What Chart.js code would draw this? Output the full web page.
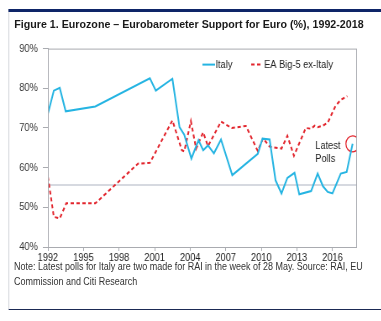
<!DOCTYPE html>
<html>
<head>
<meta charset="utf-8">
<script src="https://cdn.jsdelivr.net/npm/chart.js@4"></script>
<style>
	body { margin: 0; background: #fff; }
	#page {
		position: absolute; left: 0; top: 0;
		width: 454px; height: 321px;
		transform: scaleX(0.84); transform-origin: 0 0;
		font-family: "Liberation Sans", Arial, sans-serif;
	}
	#topbar { position: absolute; left: 9.5px; top: 9px; right: 0; height: 3px; background: #0e2568; }
	#leftline { position: absolute; left: 9.5px; top: 12px; width: 1px; height: 297px; background: #cfd2d8; }
	#bottomline { position: absolute; left: 9.5px; top: 309px; right: 0; height: 1px; background: #1b2a55; }
	#title {
		position: absolute; left: 16.7px; top: 17px;
		font-weight: bold; font-size: 11px; line-height: 14px; color: #1a1a1a; white-space: nowrap;
		transform: scaleX(1.155); transform-origin: 0 0;
	}
	#wrap { position: absolute; left: 0; top: 36px; width: 454px; height: 228px; }
	#note { position: absolute; left: 16.7px; top: 259px; font-size: 10.7px; line-height: 15px; color: #333; white-space: nowrap; }
</style>
</head>
<body>
<div id="page">
	<div id="topbar"></div>
	<div id="leftline"></div>
	<div id="title">Figure 1. Eurozone – Eurobarometer Support for Euro (%), 1992-2018</div>
	<div id="wrap"><canvas id="canvas" width="454" height="228"></canvas></div>
	<div id="note">Note: Latest polls for Italy are two made for RAI in the week of 28 May. Source: RAI, EU<br>Commission and Citi Research</div>
	<div id="bottomline"></div>
</div>
<script>
const italyYears = [1992.0, 1992.5, 1993.0, 1993.5, 1996.0, 2000.6, 2001.1, 2002.5, 2003.1, 2003.5,
	2004.1, 2004.7, 2005.1, 2005.5, 2006.0, 2006.6, 2007.55, 2009.7, 2010.1, 2010.7,
	2011.2, 2011.7, 2012.2, 2012.8, 2013.2, 2014.2, 2014.75, 2015.2, 2015.6, 2016.0,
	2016.7, 2017.2, 2017.7];
const italyValues = [73.6, 79.4, 80.1, 74.2, 75.4, 82.5, 79.4, 82.4, 70.2, 68.3,
	62.3, 66.9, 64.4, 65.6, 63.6, 67.1, 58.1, 63.5, 67.3, 67.1,
	56.8, 53.5, 57.4, 58.7, 53.3, 54.1, 58.5, 55.3, 53.9, 53.5,
	58.5, 58.9, 66.0];

const eaYears = [1992.0, 1992.5, 1993.0, 1993.55, 1996.0, 1999.6, 2000.6, 2002.5, 2003.3, 2003.5,
	2004.06, 2004.5, 2005.1, 2005.5, 2006.6, 2007.5, 2008.7, 2009.7, 2010.15, 2010.7,
	2011.7, 2012.2, 2012.75, 2013.75, 2014.2, 2014.5, 2014.75, 2015.2, 2015.6, 2016.25,
	2016.7, 2017.25];
const eaValues = [57.7, 47.6, 47.2, 51.0, 51.0, 61.0, 61.2, 71.9, 64.4, 64.1,
	71.7, 64.8, 68.9, 65.4, 71.6, 70.0, 70.5, 64.2, 67.4, 65.3,
	64.8, 68.0, 63.0, 70.0, 69.8, 70.6, 70.2, 70.6, 71.3, 75.5,
	77.1, 78.0];

const referenceLevel = 55.6;
const yTicks = [40, 50, 60, 70, 80, 90];
const xTicks = [1992, 1995, 1998, 2001, 2004, 2007, 2010, 2013, 2016];

const cyan = "#25b4e2";
const red = "#e2252d";

const toPoints = (xs, ys) => xs.map((x, i) => ({ x: x, y: ys[i] }));

// frame around the plot, legend and the "Latest Polls" note
const decor = {
	id: "decor",
	afterDraw(chart) {
		const { ctx, chartArea: a, scales } = chart;
		ctx.save();
		ctx.strokeStyle = "#a9abb0";
		ctx.lineWidth = 1;
		ctx.strokeRect(a.left + 0.5, a.top + 0.5, a.right - a.left, a.bottom - a.top);

		ctx.font = "11px 'Liberation Sans', Arial, sans-serif";
		ctx.textBaseline = "middle";
		ctx.fillStyle = "#222";
		const ly = a.top + 16;
		ctx.lineWidth = 2;
		ctx.strokeStyle = cyan;
		ctx.beginPath();
		ctx.moveTo(241, ly);
		ctx.lineTo(256, ly);
		ctx.stroke();
		ctx.fillText("Italy", 256.5, ly);
		ctx.strokeStyle = red;
		ctx.setLineDash([4, 3]);
		ctx.beginPath();
		ctx.moveTo(299, ly);
		ctx.lineTo(313, ly);
		ctx.stroke();
		ctx.setLineDash([]);
		ctx.fillText("EA Big-5 ex-Italy", 314.5, ly);

		const tx = scales.x.getPixelForValue(2014.55);
		ctx.fillText("Latest", tx, scales.y.getPixelForValue(65.4));
		ctx.fillText("Polls", tx, scales.y.getPixelForValue(62.3));
		ctx.restore();
	},
};

new Chart(document.getElementById("canvas"), {
	type: "line",
	data: {
		datasets: [
			{
				label: "Italy",
				data: toPoints(italyYears, italyValues),
				borderColor: cyan,
				borderWidth: 2,
				pointRadius: 0,
				tension: 0,
			},
			{
				label: "EA Big-5 ex-Italy",
				data: toPoints(eaYears, eaValues),
				borderColor: red,
				borderWidth: 2,
				borderDash: [4, 3],
				pointRadius: 0,
				tension: 0,
			},
			{
				label: "reference",
				data: [{ x: 1992, y: referenceLevel }, { x: 2018, y: referenceLevel }],
				borderColor: "#c9ccd6",
				borderWidth: 1.5,
				pointRadius: 0,
				order: 5,
			},
			{
				label: "latest",
				data: [{ x: italyYears.at(-1), y: italyValues.at(-1) }],
				showLine: false,
				pointRadius: 8,
				pointBorderWidth: 1.3,
				pointBorderColor: red,
				pointBackgroundColor: "rgba(0,0,0,0)",
			},
		],
	},
	options: {
		responsive: false,
		animation: false,
		layout: { padding: { left: 0, right: 30, top: 12, bottom: 0 } },
		plugins: { legend: { display: false }, tooltip: { enabled: false } },
		scales: {
			x: {
				type: "linear",
				min: 1992,
				max: 2018,
				afterFit: (s) => { s.height = 17; },
				afterBuildTicks: (s) => { s.ticks = xTicks.map((v) => ({ value: v })); },
				grid: { drawOnChartArea: false, tickLength: 4, color: "#a9abb0" },
				border: { color: "#a9abb0" },
				ticks: {
					padding: 0,
					maxRotation: 0,
					autoSkip: false,
					color: "#222",
					font: { family: "'Liberation Sans', Arial, sans-serif", size: 11 },
					callback: (v) => String(v),
				},
			},
			y: {
				min: 40,
				max: 90,
				afterFit: (s) => { s.width = 57; },
				afterBuildTicks: (s) => { s.ticks = yTicks.map((v) => ({ value: v })); },
				grid: { drawOnChartArea: false, tickLength: 6, color: "#a9abb0" },
				border: { color: "#a9abb0" },
				ticks: {
					padding: 6,
					color: "#333",
					font: { family: "'Liberation Sans', Arial, sans-serif", size: 11 },
					callback: (v) => v + "%",
				},
			},
		},
	},
	plugins: [decor],
});
</script>
</body>
</html>
